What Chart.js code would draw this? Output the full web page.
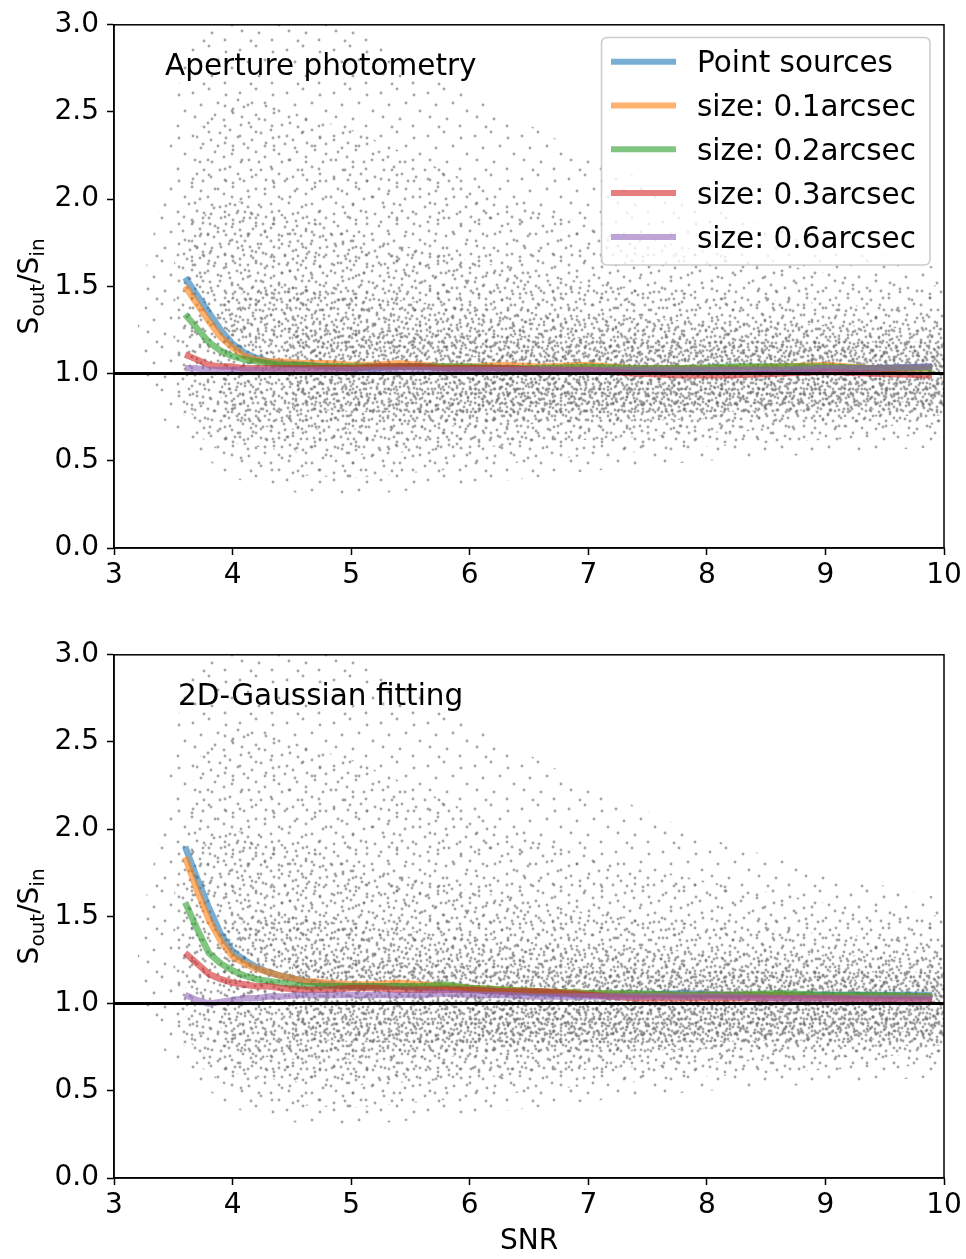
<!DOCTYPE html>
<html><head><meta charset="utf-8">
<script src="https://cdn.jsdelivr.net/npm/chart.js@4/dist/chart.umd.min.js"></script>
<style>
html,body{margin:0;padding:0;background:#fff;width:966px;height:1259px;overflow:hidden;}
.wrap{position:absolute;left:0;width:966px;}
#w1{top:0;height:630px;} #w2{top:630px;height:629px;}
</style></head><body>
<div class="wrap" id="w1"><canvas id="c1"></canvas></div>
<div class="wrap" id="w2"><canvas id="c2"></canvas></div>
<script>
// ---------- data ----------
const seriesLabels = ['Point sources','size: 0.1arcsec','size: 0.2arcsec','size: 0.3arcsec','size: 0.6arcsec'];
const snr = [3.6,3.7,3.8,3.9,4.0,4.1,4.2,4.3,4.4,4.6,4.8,5.0,5.2,5.4,5.6,5.8,6.0,6.3,6.6,7.0,7.4,7.8,8.2,8.6,9.0,9.4,9.9];

// Aperture photometry (top)
const apPoint = [1.55,1.45,1.35,1.25,1.17,1.12,1.09,1.07,1.06,1.05,1.04,1.03,1.03,1.04,1.04,1.03,1.03,1.03,1.02,1.02,1.02,1.02,1.02,1.02,1.03,1.03,1.04];
const apS01   = [1.50,1.40,1.30,1.21,1.15,1.10,1.08,1.07,1.07,1.06,1.06,1.05,1.05,1.06,1.05,1.04,1.04,1.05,1.04,1.05,1.03,1.03,1.03,1.04,1.05,1.03,1.03];
const apS02   = [1.34,1.26,1.18,1.13,1.10,1.08,1.07,1.06,1.05,1.05,1.04,1.04,1.04,1.04,1.04,1.04,1.04,1.03,1.03,1.04,1.03,1.03,1.04,1.04,1.04,1.03,1.03];
const apS03   = [1.11,1.08,1.05,1.04,1.04,1.03,1.03,1.03,1.03,1.03,1.03,1.03,1.04,1.04,1.04,1.03,1.03,1.03,1.02,1.02,1.00,0.99,0.99,1.00,1.01,1.00,0.99];
const apS06   = [1.03,1.03,1.02,1.02,1.02,1.02,1.02,1.02,1.02,1.02,1.02,1.02,1.02,1.02,1.02,1.02,1.02,1.02,1.02,1.02,1.02,1.02,1.02,1.02,1.03,1.03,1.04];

// 2D-Gaussian fitting (bottom)
const gfPoint = [1.90,1.72,1.55,1.40,1.30,1.25,1.21,1.18,1.16,1.13,1.11,1.10,1.10,1.10,1.09,1.09,1.08,1.07,1.06,1.05,1.05,1.06,1.05,1.05,1.05,1.05,1.05];
const gfS01   = [1.84,1.65,1.48,1.36,1.27,1.23,1.20,1.18,1.16,1.13,1.12,1.11,1.11,1.12,1.11,1.10,1.09,1.08,1.07,1.06,1.05,1.05,1.05,1.05,1.04,1.04,1.04];
const gfS02   = [1.58,1.43,1.29,1.23,1.19,1.16,1.14,1.13,1.12,1.10,1.10,1.10,1.10,1.10,1.10,1.11,1.09,1.08,1.07,1.06,1.06,1.05,1.05,1.06,1.05,1.05,1.04];
const gfS03   = [1.29,1.23,1.17,1.14,1.12,1.11,1.10,1.10,1.09,1.08,1.08,1.09,1.09,1.08,1.08,1.08,1.08,1.07,1.07,1.05,1.03,1.03,1.03,1.03,1.03,1.02,1.02];
const gfS06   = [1.05,1.02,1.00,1.01,1.02,1.03,1.03,1.04,1.04,1.05,1.05,1.05,1.05,1.05,1.05,1.06,1.05,1.05,1.04,1.04,1.04,1.04,1.04,1.03,1.03,1.03,1.03];

// scatter cloud of individual sources, summarised as nested density envelopes
// level 1 = sparsest outer extent ... level 6 = densest inner core
const cloudSnr1  = [3.2,3.4,3.6,3.8,4.0,4.5,5.0,5.5,6.0,7.0,8.0,9.0,10.0];
const cloudLow1  = [1.10,0.75,0.60,0.50,0.40,0.32,0.30,0.33,0.36,0.44,0.50,0.54,0.58];
const cloudHigh1 = [1.40,2.00,2.90,3.00,3.00,3.00,3.00,2.80,2.60,2.25,1.95,1.75,1.60];
const cloudSnr2  = [3.5,3.7,4.0,4.5,5.0,6.0,7.0,8.0,9.0,10.0];
const cloudLow2  = [0.85,0.65,0.50,0.42,0.40,0.46,0.53,0.58,0.62,0.65];
const cloudHigh2 = [1.60,2.40,2.60,2.50,2.40,2.10,1.85,1.70,1.58,1.50];
const cloudSnr3  = [3.6,3.8,4.0,4.5,5.0,6.0,7.0,8.0,9.0,10.0];
const cloudLow3  = [0.80,0.68,0.60,0.55,0.53,0.57,0.62,0.66,0.69,0.71];
const cloudHigh3 = [1.70,1.95,2.00,1.90,1.80,1.65,1.52,1.45,1.40,1.36];
const cloudSnr4  = [3.9,4.2,4.5,5.0,6.0,7.0,8.0,9.0,10.0];
const cloudLow4  = [0.75,0.70,0.68,0.68,0.70,0.72,0.74,0.75,0.76];
const cloudHigh4 = [1.40,1.50,1.50,1.45,1.38,1.33,1.30,1.28,1.26];
const cloudSnr5  = [4.5,5.0,6.0,7.0,8.0,9.0,10.0];
const cloudLow5  = [0.80,0.78,0.77,0.77,0.78,0.79,0.80];
const cloudHigh5 = [1.25,1.25,1.22,1.21,1.20,1.19,1.18];
const cloudSnr6  = [6.0,7.0,8.0,9.0,10.0];
const cloudLow6  = [0.83,0.82,0.82,0.83,0.84];
const cloudHigh6 = [1.10,1.13,1.14,1.14,1.13];

const refLevel = 1.0;
const xTicks = [3,4,5,6,7,8,9,10];
const yTicks = [0,0.5,1.0,1.5,2.0,2.5,3.0];
const panelTitles = ['Aperture photometry','2D-Gaussian fitting'];

// ---------- styles ----------
const FONT = '"DejaVu Sans", "Liberation Sans", sans-serif';
const lineColors = ['rgba(31,119,180,0.6)','rgba(255,127,14,0.6)','rgba(44,160,44,0.6)','rgba(214,39,40,0.6)','rgba(148,103,189,0.6)'];
const dotFill = 'rgba(112,112,112,0.62)';
function makePattern(w,h,dots){
  const c=document.createElement('canvas'); c.width=w; c.height=h;
  const g=c.getContext('2d'); g.fillStyle=dotFill;
  for(const [x,y] of dots){ g.beginPath(); g.arc(x,y,1.45,0,Math.PI*2); g.fill(); }
  return g.createPattern(c,'repeat');
}
const pat1 = makePattern(47,43,[[5,7],[21,3],[38,9],[13,19],[30,17],[44,25],[7,31],[24,33],[37,40],[16,41]]);
const pat2 = makePattern(41,37,[[3,12],[10,4],[19,9],[28,2],[36,14],[15,22],[25,19],[6,29],[33,26],[20,32],[39,33],[28,35]]);
const pat3 = makePattern(53,29,[[2,5],[9,15],[14,3],[20,24],[25,10],[31,18],[36,4],[41,26],[46,12],[51,21],[6,25],[17,12],[28,27],[38,15],[49,3],[23,2],[44,20],[33,9]]);
const pat4 = makePattern(31,37,[[2,3],[8,9],[15,2],[22,7],[28,13],[5,17],[12,14],[19,20],[26,24],[3,28],[10,33],[17,29],[24,34],[29,4],[14,23],[7,23],[21,13],[27,31],[11,5],[18,35]]);
const pat5 = makePattern(43,23,[[3,3],[10,8],[17,2],[24,9],[31,4],[38,10],[6,14],[13,19],[20,15],[27,20],[34,16],[41,21],[2,21],[8,2],[15,11],[22,21],[29,12],[36,3],[40,14],[12,6],[26,3],[33,21]]);
const pat6 = makePattern(37,29,[[4,2],[13,6],[22,3],[31,8],[2,12],[10,16],[19,12],[27,17],[35,20],[6,24],[15,26],[24,22],[32,27],[17,19],[29,2],[8,9],[35,13],[21,27]]);

function pts(xs, ys){ return xs.map((x,i)=>({x:x, y:ys[i]})); }

function buildDatasets(series){
  const ds = [];
  const band = (xs, lo, hi, pat, ord) => {
    const iLo = ds.length;
    ds.push({label:'_lo', data:pts(xs,lo), borderWidth:0, borderColor:'transparent', pointRadius:0, fill:false, order:ord});
    ds.push({label:'_hi', data:pts(xs,hi), borderWidth:0, borderColor:'transparent', pointRadius:0, backgroundColor:pat,
             fill:{target:iLo, above:pat, below:pat}, order:ord-1});
  };
  band(cloudSnr1, cloudLow1, cloudHigh1, pat1, 70);
  band(cloudSnr2, cloudLow2, cloudHigh2, pat2, 60);
  band(cloudSnr3, cloudLow3, cloudHigh3, pat3, 50);
  band(cloudSnr4, cloudLow4, cloudHigh4, pat4, 40);
  band(cloudSnr5, cloudLow5, cloudHigh5, pat5, 30);
  band(cloudSnr6, cloudLow6, cloudHigh6, pat6, 20);
  series.forEach((s,i)=>{
    ds.push({label:seriesLabels[i], data:pts(snr,s), borderColor:lineColors[i], backgroundColor:lineColors[i],
      borderWidth:6.5, pointRadius:0, fill:false, tension:0, borderCapStyle:'butt', borderJoinStyle:'round', order:10-i});
  });
  ds.push({label:'_ref', data:[{x:xTicks[0],y:refLevel},{x:xTicks[xTicks.length-1],y:refLevel}],
    borderColor:'#000', borderWidth:3, pointRadius:0, fill:false, order:0});
  return ds;
}

const framePlugin = {
  id:'frame',
  afterDatasetsDraw(chart){
    const {ctx, chartArea:a} = chart;
    ctx.save(); ctx.strokeStyle='#000'; ctx.lineWidth=1.5;
    ctx.strokeRect(a.left, a.top, a.right-a.left, a.bottom-a.top);
    ctx.restore();
  }
};

function overlayPlugin(panel){
  return {
    id:'overlay'+panel,
    afterDraw(chart){
      const {ctx, chartArea:a} = chart;
      ctx.save();
      ctx.fillStyle='#000';
      ctx.font = '29.5px '+FONT; ctx.textBaseline='middle'; ctx.textAlign='left';
      ctx.fillText(panelTitles[panel], panel===0 ? 165 : 178, 67);
      const cy = (a.top+a.bottom)/2;
      ctx.translate(28, cy); ctx.rotate(-Math.PI/2);
      const parts = [['S',28,10],['out',20,16],['/S',28,10],['in',20,16]];
      let total=0;
      parts.forEach(p=>{ ctx.font=p[1]+'px '+FONT; total += ctx.measureText(p[0]).width; });
      let x = -total/2; ctx.textBaseline='alphabetic';
      parts.forEach(p=>{ ctx.font=p[1]+'px '+FONT; ctx.fillText(p[0], x, p[2]); x += ctx.measureText(p[0]).width; });
      ctx.restore();
      if(panel===0){
        ctx.save();
        const bx=601.5, by=37.5, bw=328.5, bh=227.5, r=6;
        ctx.beginPath();
        ctx.moveTo(bx+r,by); ctx.lineTo(bx+bw-r,by); ctx.quadraticCurveTo(bx+bw,by,bx+bw,by+r);
        ctx.lineTo(bx+bw,by+bh-r); ctx.quadraticCurveTo(bx+bw,by+bh,bx+bw-r,by+bh);
        ctx.lineTo(bx+r,by+bh); ctx.quadraticCurveTo(bx,by+bh,bx,by+bh-r);
        ctx.lineTo(bx,by+r); ctx.quadraticCurveTo(bx,by,bx+r,by); ctx.closePath();
        ctx.fillStyle='rgba(255,255,255,0.8)'; ctx.fill();
        ctx.strokeStyle='#cccccc'; ctx.lineWidth=1.5; ctx.stroke();
        ctx.font='29.5px '+FONT; ctx.textBaseline='middle'; ctx.textAlign='left';
        seriesLabels.forEach((lab,i)=>{
          const yy = 61.7 + i*43.8;
          ctx.strokeStyle=lineColors[i]; ctx.lineWidth=6; ctx.lineCap='butt';
          ctx.beginPath(); ctx.moveTo(611,yy); ctx.lineTo(676,yy); ctx.stroke();
          ctx.fillStyle='#000'; ctx.fillText(lab, 697, yy+3);
        });
        ctx.restore();
      } else {
        ctx.save(); ctx.fillStyle='#000'; ctx.font='28px '+FONT; ctx.textAlign='center'; ctx.textBaseline='middle';
        ctx.fillText('SNR', (a.left+a.right)/2, 612);
        ctx.restore();
      }
    }
  };
}

function makeChart(id, series, panel){
  const tickFont = {family:FONT, size:28};
  return new Chart(document.getElementById(id), {
    type:'line',
    data:{datasets:buildDatasets(series)},
    options:{
      responsive:true, maintainAspectRatio:false, animation:false, devicePixelRatio:1,
      layout:{padding:{top:23, left:0, right:22, bottom: panel===0 ? 42 : 41}},
      plugins:{legend:{display:false}, tooltip:{enabled:false}},
      scales:{
        x:{type:'linear', min:xTicks[0], max:xTicks[xTicks.length-1],
           afterBuildTicks:s=>{ s.ticks = xTicks.map(v=>({value:v})); },
           afterFit:s=>{ s.height = 40; },
           ticks:{font:tickFont, color:'#000', padding:4, autoSkip:false, maxRotation:0, callback:v=>String(v)},
           grid:{display:true, drawOnChartArea:false, drawTicks:true, tickLength:7, tickWidth:1.5, tickColor:'#000'},
           border:{display:true, color:'#000', width:1.5}},
        y:{type:'linear', min:yTicks[0], max:yTicks[yTicks.length-1],
           afterBuildTicks:s=>{ s.ticks = yTicks.map(v=>({value:v})); },
           afterFit:s=>{ s.width = 114; },
           ticks:{font:tickFont, color:'#000', padding:8, autoSkip:false, callback:v=>Number(v).toFixed(1)},
           grid:{display:true, drawOnChartArea:false, drawTicks:true, tickLength:7, tickWidth:1.5, tickColor:'#000'},
           border:{display:true, color:'#000', width:1.5}}
      }
    },
    plugins:[framePlugin, overlayPlugin(panel)]
  });
}

makeChart('c1', [apPoint, apS01, apS02, apS03, apS06], 0);
makeChart('c2', [gfPoint, gfS01, gfS02, gfS03, gfS06], 1);
</script>
</body></html>
